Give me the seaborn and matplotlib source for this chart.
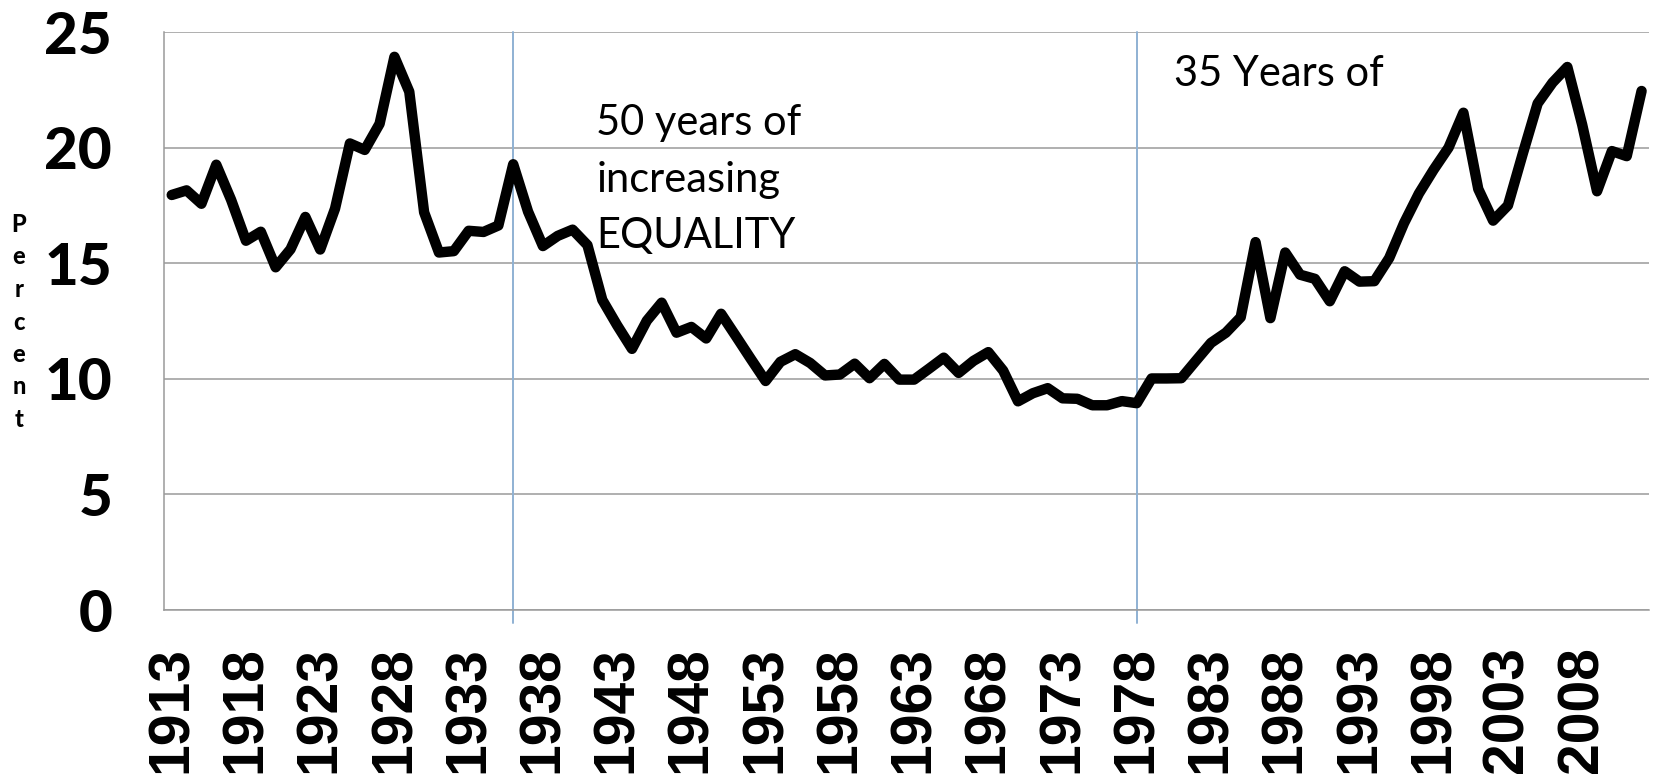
"""
Top 1% income share, 1913-2012, with two shaded eras marked
"""

import numpy as np
import pandas as pd
import matplotlib
matplotlib.use("Agg")
import matplotlib.pyplot as plt
import seaborn as sns

# ---------------- DATA ----------------
years = list(range(1913, 2013))
share = [
    17.96, 18.16, 17.58, 19.27, 17.75, 15.98, 16.37, 14.83, 15.61, 17.01,
    15.60, 17.37, 20.19, 19.91, 21.04, 23.94, 22.43, 17.21, 15.47, 15.53,
    16.41, 16.36, 16.64, 19.29, 17.24, 15.75, 16.19, 16.46, 15.79, 13.42,
    12.32, 11.30, 12.52, 13.30, 12.00, 12.25, 11.75, 12.82, 11.85, 10.87,
    9.91, 10.74, 11.07, 10.69, 10.15, 10.19, 10.66, 10.03, 10.65, 9.97,
    9.97, 10.44, 10.92, 10.26, 10.78, 11.16, 10.36, 9.03, 9.38, 9.60,
    9.16, 9.14, 8.86, 8.86, 9.04, 8.95, 10.02, 10.02, 10.03, 10.80,
    11.56, 12.00, 12.67, 15.92, 12.63, 15.47, 14.51, 14.33, 13.36, 14.66,
    14.21, 14.23, 15.23, 16.74, 18.02, 19.06, 20.01, 21.52, 18.22, 16.85,
    17.51, 19.75, 21.92, 22.82, 23.50, 21.00, 18.12, 19.86, 19.64, 22.46,
]
label_years = list(range(1913, 2009, 5))
y_ticks = [0, 5, 10, 15, 20, 25]
era_marks = [1936, 1978]
notes = ["50 years of\nincreasing\nEQUALITY", "35 Years of"]
note_pos = [(1941.6, 21.9), (1980.5, 24.0)]

df = pd.DataFrame({"year": years, "share": share})

# ---------------- STYLE ----------------
sns.set_style("white")
plt.rcParams["font.family"] = ["Lato", "DejaVu Sans"]
plt.rcParams["text.color"] = "black"
plt.rcParams["xtick.labelcolor"] = "black"
plt.rcParams["ytick.labelcolor"] = "black"

GRID = "#9a9a9a"
BLUE = "#8fb1d3"

fig = plt.figure(figsize=(16.56, 7.81), dpi=100)
ax = fig.add_axes([164.3 / 1656, 1 - 610 / 781, (1649 - 164.3) / 1656, (610 - 32.3) / 781])

# ---------------- LINE ----------------
sns.lineplot(data=df, x="year", y="share", ax=ax, color="black", lw=7.5,
             solid_joinstyle="round", solid_capstyle="round", zorder=3)

# era separators
for yr in era_marks:
    ax.plot([yr, yr], [25, -0.56], color=BLUE, lw=1.4, clip_on=False, zorder=2)

for txt, (x, y) in zip(notes, note_pos):
    ax.text(x, y, txt, fontsize=30, va="top", ha="left", linespacing=1.6,
            color="black", family=["Lato", "DejaVu Sans"])

# ---------------- AXES ----------------
ax.set_xlim(1912.5, 2012.5)
ax.set_ylim(0, 25)
ax.set_yticks(y_ticks)
ax.set_yticklabels([str(v) for v in y_ticks], fontsize=42, fontweight="black",
                   family=["Lato", "DejaVu Sans"])
ax.set_xticks(label_years)
ax.set_xticklabels([str(v) for v in label_years], rotation=90, fontsize=41,
                   fontweight="bold", family=["Liberation Sans", "DejaVu Sans"])
ax.set_xticks(np.arange(1912.5, 2013, 1), minor=True)

ax.tick_params(axis="x", which="major", length=0, pad=26)
ax.tick_params(axis="x", which="minor", length=12.5, width=1.1, color=GRID, direction="out")
ax.tick_params(axis="y", length=12.5, width=1.1, color=GRID, pad=25, direction="out")

ax.grid(axis="y", color=GRID, lw=1.1)
ax.grid(axis="x", visible=False)
for s in ["top", "right"]:
    ax.spines[s].set_visible(False)
for s in ["left", "bottom"]:
    ax.spines[s].set_color(GRID)
    ax.spines[s].set_linewidth(1.1)

ax.set_xlabel("")
ax.set_ylabel("")
fig.text(19 / 1656, 1 - 322 / 781, "P\ne\nr\nc\ne\nn\nt", fontsize=17,
         fontweight="black", ha="center", va="center", linespacing=1.5,
         family=["Lato", "DejaVu Sans"])

fig.savefig("out.png", dpi=100)
